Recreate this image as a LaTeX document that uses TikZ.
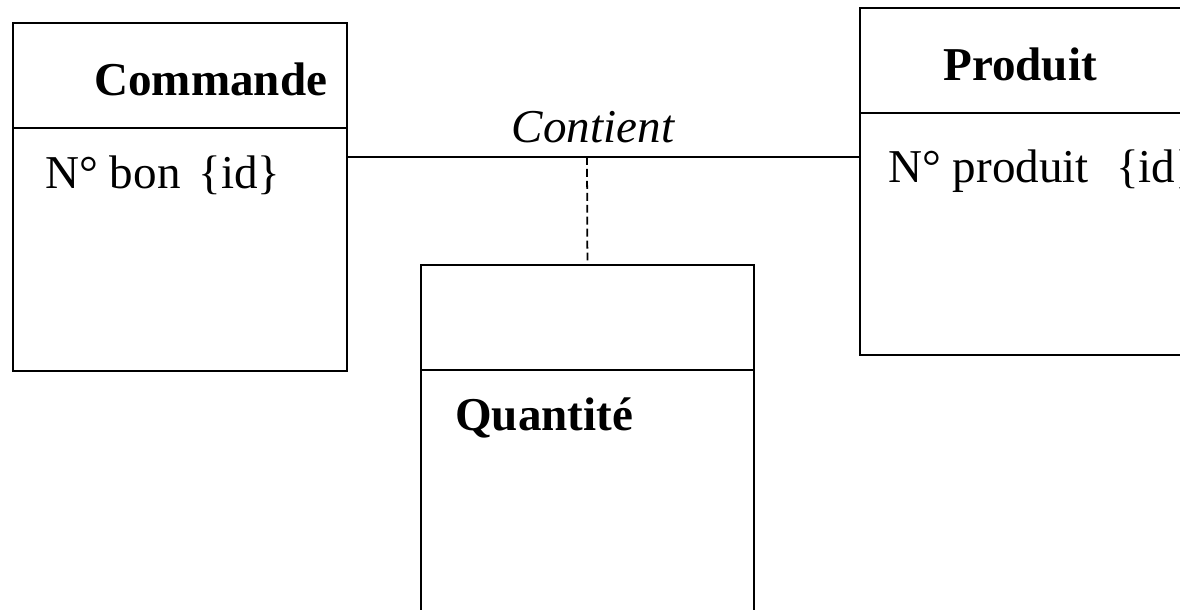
\documentclass[tikz,border=0pt]{standalone}
\usepackage{fontspec}
\setmainfont{Liberation Serif}
\usetikzlibrary{positioning}
\tikzset{
  classBox/.style={rectangle, draw, line width=1.1pt, anchor=north west, inner sep=0pt},
  className/.style={font=\bfseries, anchor=base west, inner sep=0pt},
  attrName/.style={anchor=base west, inner sep=0pt},
  assocLine/.style={line width=1.4pt},
  assocDash/.style={line width=1pt, dash pattern=on 4.5pt off 2.3pt}
}

\begin{document}
\begin{tikzpicture}[x=0.02cm, y=-0.02cm]
  \fontsize{26.8pt}{32pt}\selectfont
  \clip (0,0) rectangle (1180,609);
  % classes
  \node [classBox, minimum width=6.68cm, minimum height=6.96cm] (commande) at (12,22) {};
  \node [classBox, minimum width=6.9cm, minimum height=6.94cm] (produit) at (859,7) {};
  \node [classBox, minimum width=6.66cm, minimum height=7.6cm] (quantite) at (420,264) {};
  \draw [line width=1.1pt] (12,128) -- (346,128);
  \draw [line width=1.1pt] (859,113) -- (1200,113);
  \draw [line width=1.1pt] (420,370) -- (753,370);
  % names and attributes
  \node [className] (commandeName) at (94,95) {Commande};
  \node [attrName] (commandeId) at (45,188) {N° bon\hspace{0.38em}\{id\}};
  \node [className] (produitName) at (943,80) {Produit};
  \node [attrName] (produitId) at (888,182) {N° produit\hspace{0.58em}\{id\}};
  \node [className] (quantiteName) at (455,430) {Quantité};
  % association
  \coordinate (assoc) at (587,157);
  \draw [assocLine] (commande.east |- assoc) -- (produit.west |- assoc);
  \node [anchor=base, inner sep=0pt, font=\itshape] (contient) at (593,142) {Contient};
  \draw [assocDash] (assoc) -- (quantite.north);
\end{tikzpicture}
\end{document}
